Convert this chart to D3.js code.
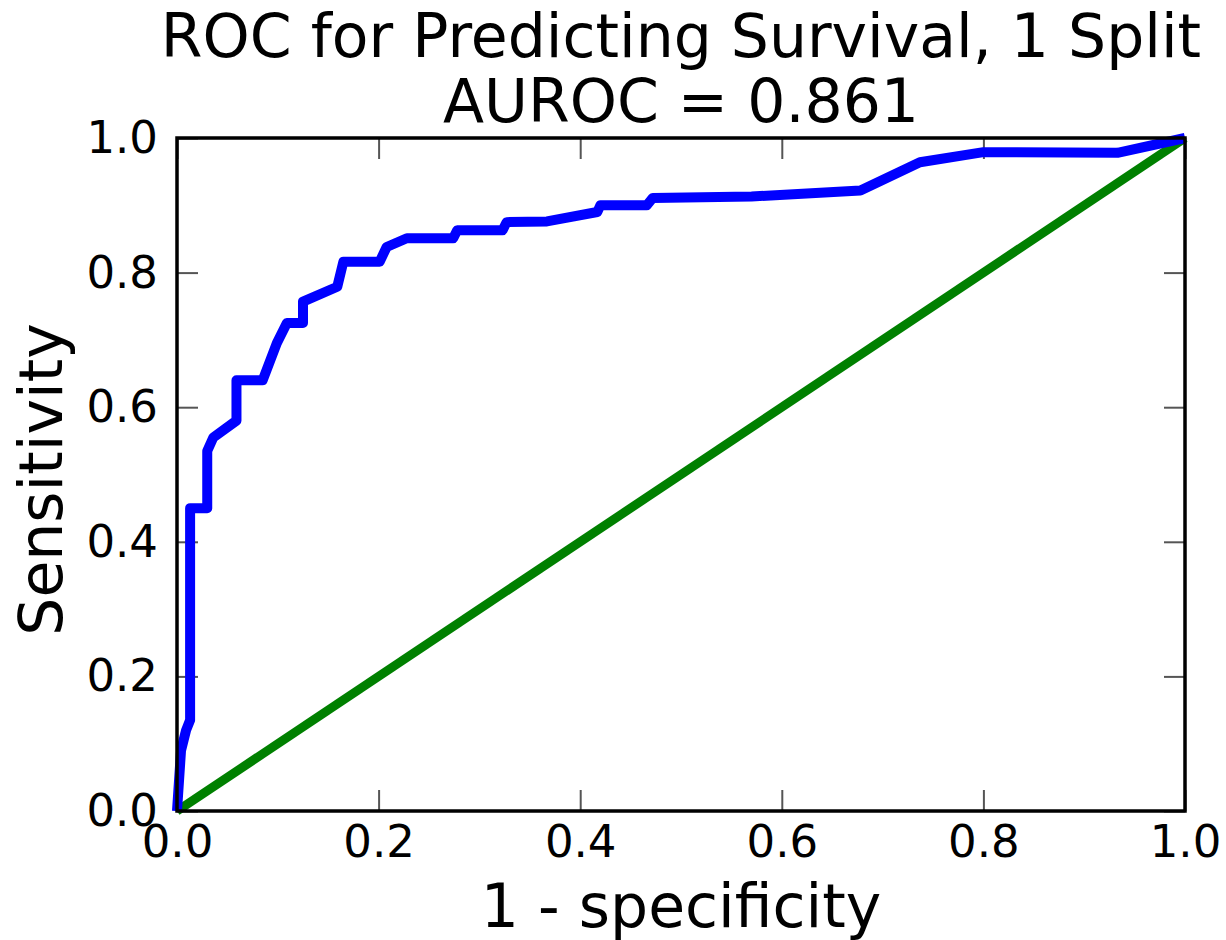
<!DOCTYPE html>
<html>
<head>
    <meta charset='utf-8'/>
    <title>ROC curve</title>
    <style>
        body { margin: 0; background: #fff; }
        text { font-family: "DejaVu Sans", sans-serif; fill: #000; }
        .tick line { stroke: #555; stroke-width: 2; }
    </style>
</head>
<body>
<div id="chart"></div>

<script src="https://d3js.org/d3.v7.min.js"></script>
<script type="text/javascript">

    // ROC curve points (1 - specificity, sensitivity)
    var fpr = [0, 0.004, 0.009, 0.013, 0.013, 0.03, 0.03, 0.036, 0.059, 0.059, 0.085, 0.099, 0.109, 0.125, 0.125,
        0.159, 0.165, 0.201, 0.208, 0.228, 0.274, 0.278, 0.323, 0.327, 0.367, 0.417, 0.42, 0.466, 0.472,
        0.57, 0.678, 0.737, 0.8, 0.933, 1];
    var tpr = [0, 0.09, 0.12, 0.135, 0.45, 0.45, 0.535, 0.555, 0.58, 0.64, 0.64, 0.695, 0.725, 0.725, 0.757,
        0.779, 0.816, 0.816, 0.838, 0.851, 0.851, 0.863, 0.863, 0.875, 0.876, 0.89, 0.9, 0.9, 0.911,
        0.913, 0.922, 0.964, 0.979, 0.978, 1];

    // chance line
    var chance = [0, 1];

    var ticks = [0, 0.2, 0.4, 0.6, 0.8, 1.0];

    var titleLines = ["ROC for Predicting Survival, 1 Split", "AUROC = 0.861"];

    // dims
    var svg_dx = 1226,
        svg_dy = 940,
        margin = {top: 138, right: 41, bottom: 129, left: 177},
        plot_dx = svg_dx - margin.left - margin.right,
        plot_dy = svg_dy - margin.top - margin.bottom;

    var x = d3.scaleLinear().domain([0, 1]).range([margin.left, margin.left + plot_dx]),
        y = d3.scaleLinear().domain([0, 1]).range([margin.top + plot_dy, margin.top]);

    var svg = d3.select("#chart")
        .append("svg")
        .attr("width", svg_dx)
        .attr("height", svg_dy);

    var fmt = d3.format(".1f");

    /* axes, ticks point inward on all four sides */
    svg.append("g")
        .attr("transform", "translate(0," + y(0) + ")")
        .call(d3.axisBottom(x).tickValues(ticks).tickFormat(fmt).tickSize(-21).tickPadding(14))
        .call(g => g.select(".domain").remove())
        .call(g => g.selectAll("text").attr("font-size", 45).attr("font-family", "DejaVu Sans").attr("fill", "#000"));

    svg.append("g")
        .attr("transform", "translate(0," + y(1) + ")")
        .call(d3.axisTop(x).tickValues(ticks).tickFormat("").tickSize(-21))
        .call(g => g.select(".domain").remove());

    svg.append("g")
        .attr("transform", "translate(" + x(0) + ",0)")
        .call(d3.axisLeft(y).tickValues(ticks).tickFormat(fmt).tickSize(-21).tickPadding(19))
        .call(g => g.select(".domain").remove())
        .call(g => g.selectAll("text").attr("font-size", 45).attr("font-family", "DejaVu Sans").attr("fill", "#000"));

    svg.append("g")
        .attr("transform", "translate(" + x(1) + ",0)")
        .call(d3.axisRight(y).tickValues(ticks).tickFormat("").tickSize(-21))
        .call(g => g.select(".domain").remove());

    /* lines */
    var line = d3.line()
        .x(d => x(d[0]))
        .y(d => y(d[1]));

    svg.append("path")
        .datum(chance.map(v => [v, v]))
        .attr("d", line)
        .attr("fill", "none")
        .attr("stroke", "#008000")
        .attr("stroke-width", 9);

    svg.append("path")
        .datum(fpr.map((v, i) => [v, tpr[i]]))
        .attr("d", line)
        .attr("fill", "none")
        .attr("stroke", "#0000ff")
        .attr("stroke-width", 10)
        .attr("stroke-linejoin", "round");

    /* frame */
    svg.append("rect")
        .attr("x", x(0))
        .attr("y", y(1))
        .attr("width", x(1) - x(0))
        .attr("height", y(0) - y(1))
        .attr("fill", "none")
        .attr("stroke", "#000")
        .attr("stroke-width", 3.5);

    /* title */
    svg.append("g")
        .selectAll("text")
        .data(titleLines)
        .enter()
        .append("text")
        .attr("x", (x(0) + x(1)) / 2)
        .attr("y", (d, i) => 57 + i * 65)
        .attr("text-anchor", "middle")
        .attr("font-size", 60)
        .text(d => d);

    /* axis labels */
    svg.append("text")
        .attr("x", (x(0) + x(1)) / 2)
        .attr("y", 927)
        .attr("text-anchor", "middle")
        .attr("font-size", 60)
        .text("1 - specificity");

    svg.append("text")
        .attr("transform", "translate(62," + ((y(0) + y(1)) / 2 + 5) + ") rotate(-90)")
        .attr("text-anchor", "middle")
        .attr("font-size", 60)
        .text("Sensitivity");

</script>

</body>
</html>
